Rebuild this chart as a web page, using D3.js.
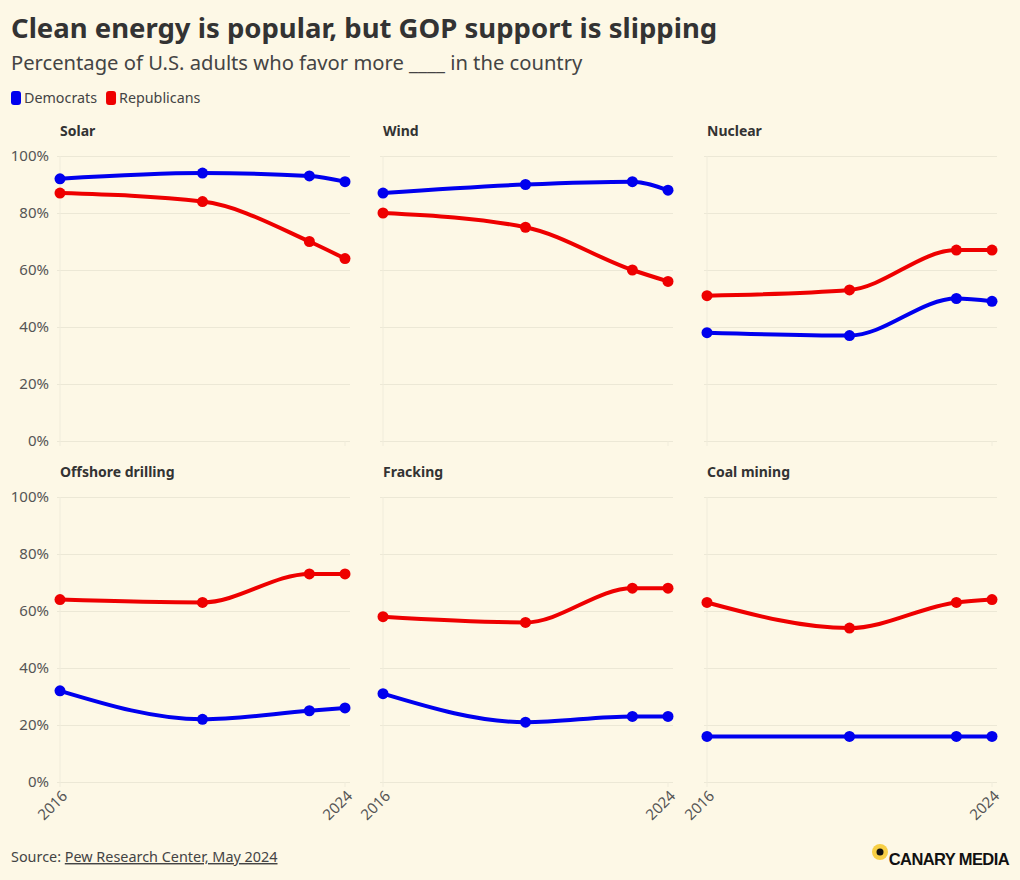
<!DOCTYPE html>
<html><head><meta charset="utf-8">
<script src="https://cdn.jsdelivr.net/npm/d3@7"></script>
<style>
html,body{margin:0;padding:0;background:#fdf8e6;}
svg{display:block;font-family:"Noto Sans",sans-serif;}
</style></head>
<body><svg id="chart" width="1020" height="880"></svg>
<script>
const years = [2016, 2020, 2023, 2024];
const panels = ["Solar", "Wind", "Nuclear", "Offshore drilling", "Fracking", "Coal mining"];
const seriesNames = ["Democrats", "Republicans"];
const seriesColors = ["#0000ee", "#ee0000"];
const demValues = [
  [92, 94, 93, 91],
  [87, 90, 91, 88],
  [38, 37, 50, 49],
  [32, 22, 25, 26],
  [31, 21, 23, 23],
  [16, 16, 16, 16]
];
const repValues = [
  [87, 84, 70, 64],
  [80, 75, 60, 56],
  [51, 53, 67, 67],
  [64, 63, 73, 73],
  [58, 56, 68, 68],
  [63, 54, 63, 64]
];
const yTicks = [0, 20, 40, 60, 80, 100];
const xTickLabels = [2016, 2024];

const svg = d3.select("#chart");
const textColor = "#333333";
const axisColor = "#555555";

svg.append("text").attr("x", 11).attr("y", 38)
  .attr("font-size", 27.5).attr("font-weight", 700).attr("fill", textColor)
  .text("Clean energy is popular, but GOP support is slipping");
svg.append("text").attr("x", 11).attr("y", 70)
  .attr("font-size", 20.2).attr("fill", "#444")
  .text("Percentage of U.S. adults who favor more ____ in the country");

// legend
let lx = 11;
seriesNames.forEach((n, i) => {
  svg.append("rect").attr("x", lx).attr("y", 91).attr("width", 10).attr("height", 14)
    .attr("rx", 3).attr("fill", seriesColors[i]);
  const t = svg.append("text").attr("x", lx + 13).attr("y", 103)
    .attr("font-size", 14.3).attr("fill", "#444").text(n);
  lx += 13 + t.node().getComputedTextLength() + 9;
});

const colX = [60, 383, 707];
const rowY = [156, 497];
const pw = 285, ph = 285;

panels.forEach((name, i) => {
  const c = i % 3, r = Math.floor(i / 3);
  const g = svg.append("g").attr("transform", `translate(${colX[c]},${rowY[r]})`);
  const x = d3.scaleLinear().domain([2016, 2024]).range([0, pw]);
  const y = d3.scaleLinear().domain([0, 100]).range([ph, 0]);

  g.append("text").attr("x", 0).attr("y", -20).attr("font-size", 14)
    .attr("font-weight", 700).attr("fill", textColor).text(name);

  // grid
  const yAxis = d3.axisLeft(y).tickValues(yTicks).tickSize(-(pw + 8))
    .tickFormat(d => c === 0 ? d + "%" : "");
  const ya = g.append("g").attr("transform", "translate(-3,0)").call(yAxis);
  ya.select(".domain").remove();
  ya.selectAll(".tick line").attr("stroke", "#ece8d6").attr("stroke-width", 1);
  ya.selectAll(".tick text").attr("font-size", 15).attr("fill", axisColor)
    .attr("font-family", "Noto Sans, sans-serif").attr("x", -8);

  g.append("line").attr("x1", 0).attr("x2", 0).attr("y1", 0).attr("y2", ph + 5)
    .attr("stroke", "#f0ecdb");
  g.append("line").attr("x1", pw).attr("x2", pw).attr("y1", ph).attr("y2", ph + 5)
    .attr("stroke", "#f0ecdb");

  if (r === 1) {
    const xAxis = d3.axisBottom(x).tickValues(xTickLabels).tickSize(0).tickFormat(d3.format("d"));
    const xa = g.append("g").attr("transform", `translate(0,${ph})`).call(xAxis);
    xa.select(".domain").remove();
    xa.selectAll(".tick text").attr("font-size", 15).attr("fill", axisColor)
      .attr("font-family", "Noto Sans, sans-serif")
      .attr("text-anchor", "end").attr("dy", 0).attr("y", 0)
      .attr("transform", "translate(5,12) rotate(-45)").attr("dominant-baseline", "middle");
  }

  const line = d3.line().x(d => x(d[0])).y(d => y(d[1])).curve(d3.curveMonotoneX);
  [demValues[i], repValues[i]].forEach((vals, s) => {
    const pts = years.map((yr, k) => [yr, vals[k]]);
    g.append("path").datum(pts).attr("d", line).attr("fill", "none")
      .attr("stroke", seriesColors[s]).attr("stroke-width", 4).attr("stroke-linecap", "round");
    g.selectAll(null).data(pts).enter().append("circle")
      .attr("cx", d => x(d[0])).attr("cy", d => y(d[1])).attr("r", 5.5)
      .attr("fill", seriesColors[s]);
  });
});

// source
const src = svg.append("text").attr("x", 11).attr("y", 862).attr("font-size", 14.4).attr("fill", "#444");
src.append("tspan").text("Source: ");
src.append("tspan").attr("text-decoration", "underline").text("Pew Research Center, May 2024");

// logo
svg.append("circle").attr("cx", 880).attr("cy", 852).attr("r", 8).attr("fill", "#f7cf45");
svg.append("circle").attr("cx", 880).attr("cy", 852).attr("r", 3.5).attr("fill", "#111");
svg.append("text").attr("x", 1009).attr("y", 865).attr("text-anchor", "end")
  .attr("font-size", 16.5).attr("font-weight", 700).attr("fill", "#111")
  .attr("font-family", "Liberation Sans, Arial, sans-serif").attr("letter-spacing", -0.6)
  .text("CANARY MEDIA");
</script></body></html>
